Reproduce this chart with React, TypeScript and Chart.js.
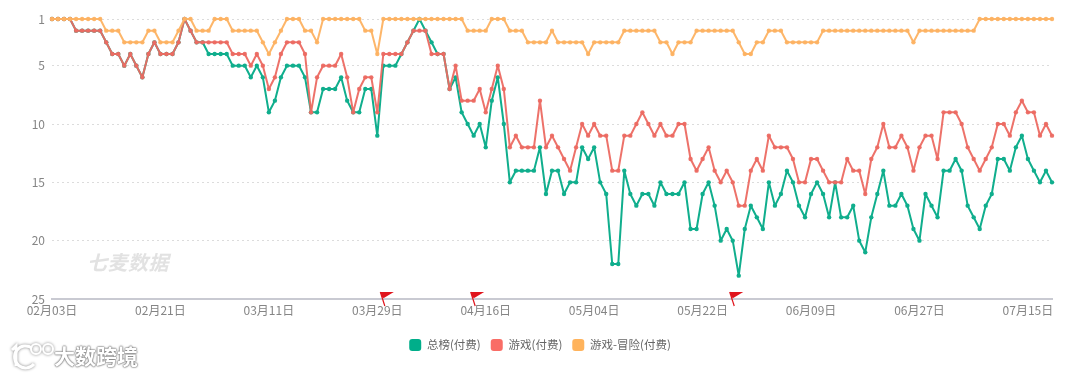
import React, { useEffect, useRef } from "react";
import { Chart, registerables } from "chart.js";

Chart.register(...registerables);

const tickEvery = 18;
const startMonth = 2;
const startDay = 3;
const monthLengths = [31, 28, 31, 30, 31, 30, 31, 31];

const totalRank = [
  1,1,1,1,2,2,2,2,2,3,
  4,4,5,4,5,6,4,3,4,4,
  4,3,1,2,3,3,4,4,4,4,
  5,5,5,6,5,6,9,8,6,5,
  5,5,6,9,9,7,7,7,6,8,
  9,9,7,7,11,5,5,5,4,3,
  2,1,2,3,4,4,7,6,9,10,
  11,10,12,8,6,10,15,14,14,14,
  14,12,16,14,14,16,15,15,12,13,
  12,15,16,22,22,14,16,17,16,16,
  17,15,16,16,16,15,19,19,16,15,
  17,20,19,20,23,19,17,18,19,15,
  17,16,14,15,17,18,16,15,16,18,
  15,18,18,17,20,21,18,16,14,17,
  17,16,17,19,20,16,17,18,14,14,
  13,14,17,18,19,17,16,13,13,14,
  12,11,13,14,15,14,15,
];
const gameRank = [
  1,1,1,1,2,2,2,2,2,3,
  4,4,5,4,5,6,4,3,4,4,
  4,3,1,2,3,3,3,3,3,3,
  4,4,4,5,4,5,7,6,4,3,
  3,3,4,9,6,5,5,5,4,6,
  9,7,6,6,9,4,4,4,4,3,
  2,2,2,4,4,4,7,5,8,8,
  8,7,9,7,5,7,12,11,12,12,
  12,8,12,11,12,13,14,12,10,11,
  10,11,11,14,14,11,11,10,9,10,
  11,10,11,11,10,10,13,14,13,12,
  14,15,14,15,17,17,14,13,14,11,
  12,12,12,13,15,15,13,13,14,15,
  15,15,13,14,14,16,13,12,10,12,
  12,11,12,14,12,11,11,13,9,9,
  9,10,12,13,14,13,12,10,10,11,
  9,8,9,9,11,10,11,
];
const adventureRank = [
  1,1,1,1,1,1,1,1,1,2,
  2,2,3,3,3,3,2,2,3,3,
  3,2,1,1,2,2,2,1,1,1,
  2,2,2,2,2,3,4,3,2,1,
  1,1,2,2,3,1,1,1,1,1,
  1,1,2,2,4,1,1,1,1,1,
  1,1,1,1,1,1,1,1,1,2,
  2,2,2,1,1,1,2,2,2,3,
  3,3,3,2,3,3,3,3,3,4,
  3,3,3,3,3,2,2,2,2,2,
  2,3,3,4,3,3,3,2,2,2,
  2,2,2,2,3,4,4,3,3,2,
  2,2,3,3,3,3,3,3,2,2,
  2,2,2,2,2,2,2,2,2,2,
  2,2,2,3,2,2,2,2,2,2,
  2,2,2,2,1,1,1,1,1,1,
  1,1,1,1,1,1,1,
];
const yTicks = [1, 5, 10, 15, 20, 25];
const flagIndexes = [55, 70, 113];
const seriesNames = ["总榜(付费)", "游戏(付费)", "游戏-冒险(付费)"];

function buildLabels(count: number): string[] {
  const out: string[] = [];
  let m = startMonth;
  let d = startDay;
  for (let i = 0; i < count; i++) {
    out.push(`${String(m).padStart(2, "0")}月${String(d).padStart(2, "0")}日`);
    d++;
    if (d > monthLengths[m - 1]) {
      d = 1;
      m++;
    }
  }
  return out;
}
const labels = buildLabels(totalRank.length);

const flagPlugin = {
  id: "flags",
  afterLayout(chart: any) {
    const legend = chart.legend;
    legend.left += 14;
    legend.right += 14;
    legend.top += 8;
    legend.bottom += 8;
  },
  afterDatasetsDraw(chart: any) {
    const { ctx, scales } = chart;
    const base = scales.y.bottom;
    ctx.save();
    flagIndexes.forEach((idx) => {
      const x = scales.x.getPixelForValue(idx) + 1.5;
      const y = base + 7;
      ctx.strokeStyle = "#e0141c";
      ctx.lineWidth = 1.2;
      ctx.beginPath();
      ctx.moveTo(x, y);
      ctx.lineTo(x - 4.5, y - 14);
      ctx.stroke();
      ctx.fillStyle = "#e0141c";
      ctx.beginPath();
      ctx.moveTo(x - 4.5, y - 14);
      ctx.lineTo(x + 9, y - 14);
      ctx.lineTo(x - 1, y - 8);
      ctx.lineTo(x - 2.6, y - 8.5);
      ctx.closePath();
      ctx.fill();
    });
    ctx.restore();
  },
};

const makeDataset = (label: string, data: number[], color: string, line: string, order: number) => ({
  label,
  data,
  order,
  borderColor: line,
  backgroundColor: color,
  pointBackgroundColor: line,
  pointBorderColor: line,
  pointStyle: "circle",
  borderWidth: 2,
  borderJoinStyle: "round" as const,
  pointRadius: 2.2,
  pointBorderWidth: 0,
  tension: 0,
  clip: false as const,
});

export default function App() {
  const ref = useRef<HTMLCanvasElement>(null);
  useEffect(() => {
    if (!ref.current) return;
    const chart = new Chart(ref.current, {
      type: "line",
      data: {
        labels,
        datasets: [
          makeDataset(seriesNames[0], totalRank, "#00ae8a", "#10ae8d", 3),
          makeDataset(seriesNames[1], gameRank, "#f96d66", "rgba(236,106,98,0.95)", 2),
          makeDataset(seriesNames[2], adventureRank, "#ffb35c", "rgba(253,178,98,0.95)", 1),
        ],
      },
      options: {
        animation: false,
        responsive: false,
        layout: { padding: { top: 19, right: 28, left: 0, bottom: 22 } },
        scales: {
          x: {
            type: "category",
            offset: false,
            grid: { display: false, drawTicks: false },
            border: { color: "#c9cad2", width: 2 },
            afterFit(scale: any) {
              scale.height = 22;
            },
            ticks: {
              autoSkip: false,
              maxRotation: 0,
              minRotation: 0,
              padding: 4,
              color: "#858585",
              font: { family: "'Noto Sans CJK SC'", size: 12 },
              callback(_v: any, i: number) {
                return i % tickEvery === 0 ? labels[i] : "";
              },
            },
          },
          y: {
            reverse: true,
            min: 1,
            max: 25,
            afterFit(scale: any) {
              scale.width = 52;
            },
            afterBuildTicks(scale: any) {
              scale.ticks = yTicks.map((value) => ({ value }));
            },
            grid: { color: "#dcdcdc", drawTicks: false, lineWidth: 1 },
            border: { display: false, dash: [2, 3] },
            ticks: {
              padding: 7,
              color: "#858585",
              font: { family: "'Noto Sans CJK SC'", size: 12 },
            },
          },
        },
        plugins: {
          title: { display: false },
          tooltip: { enabled: false },
          legend: {
            position: "bottom",
            labels: {
              boxWidth: 12,
              boxHeight: 12,
              padding: 10,
              color: "#666666",
              font: { family: "'Noto Sans CJK SC'", size: 11.5 },
              generateLabels(c: any) {
                return c.data.datasets.map((d: any, i: number) => ({
                  text: d.label,
                  fillStyle: d.backgroundColor,
                  strokeStyle: d.backgroundColor,
                  lineWidth: 0,
                  borderRadius: 3,
                  fontColor: "#666666",
                  datasetIndex: i,
                  hidden: false,
                }));
              },
            },
          },
        },
      },
      plugins: [flagPlugin],
    } as any);
    return () => chart.destroy();
  }, []);

  return (
    <div style={{ position: "absolute", left: 0, top: 0, width: 1080, height: 375, overflow: "hidden", background: "#fff" }}>
      <canvas ref={ref} width={1080} height={375} style={{ display: "block" }} />
      <div
        style={{
          position: "absolute",
          left: 87,
          top: 248,
          fontFamily: "'Noto Sans CJK SC'",
          fontSize: 20,
          fontWeight: 700,
          fontStyle: "italic",
          color: "#e2e2e2",
          letterSpacing: 0.5,
          lineHeight: "28px",
        }}
      >
        七麦数据
      </div>
      <svg width={50} height={36} style={{ position: "absolute", left: 8, top: 340 }}>
        <g fill="none" stroke="#fff" strokeWidth={3} style={{ filter: "drop-shadow(0 0 1.5px #888)" }}>
          <path d="M4 10 L8 6 L8 26" />
          <path d="M24 8 A11 11 0 1 0 26 24" />
          <circle cx={28} cy={9} r={5} strokeWidth={2} />
          <circle cx={40} cy={9} r={5} strokeWidth={2} />
        </g>
      </svg>
      <div
        style={{
          position: "absolute",
          left: 54,
          top: 341,
          fontFamily: "'Noto Sans CJK SC'",
          fontSize: 21,
          fontWeight: 700,
          color: "#fff",
          lineHeight: "28px",
          textShadow: "0 0 2px #777, 0 0 2px #777, 0 0 1px #777",
        }}
      >
        大数跨境
      </div>
    </div>
  );
}
